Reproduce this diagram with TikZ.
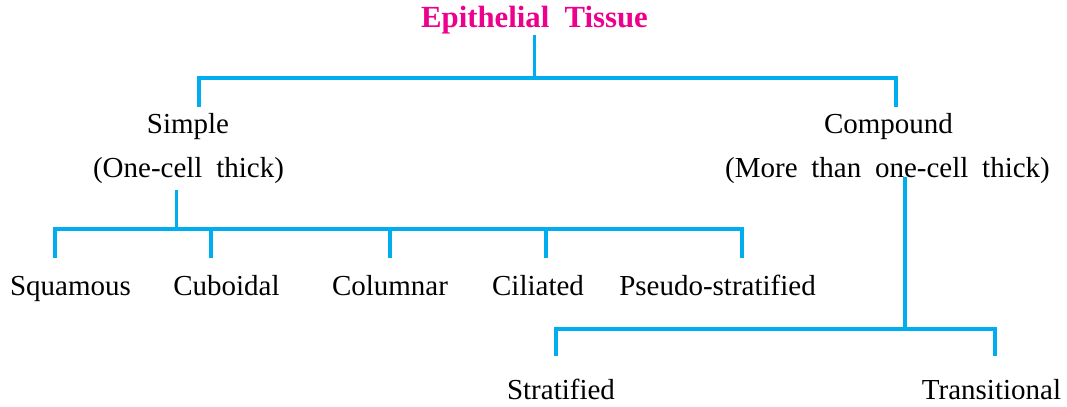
\documentclass[tikz,border=0pt]{standalone}
\usepackage{fontspec}
\setmainfont{Liberation Serif}
\newfontfamily\branchfont[WordSpace=1.9]{Liberation Serif}
\usepackage{xcolor}
\usepackage{tikz}
\usetikzlibrary{calc}

\definecolor{tissuepink}{HTML}{EC008C}
\definecolor{branchblue}{HTML}{00AEEF}

\begin{document}
\begin{tikzpicture}[x=0.02cm,y=-0.02cm,
		branch/.style={draw=branchblue,line width=1.9pt},
		root/.style={font=\fontsize{17.5}{21}\selectfont\bfseries,text=tissuepink,anchor=base,inner sep=0pt,text depth=4.3pt},
		kind/.style={font=\fontsize{16.5}{20}\branchfont,anchor=base,inner xsep=0pt,inner ysep=3pt,text height=11.5pt,text depth=4pt},
		leaf/.style={kind,inner ysep=9.5pt},
		lowleaf/.style={kind,inner ysep=12.5pt}]
			\useasboundingbox (0,0) rectangle (1067,406);
			
			\node[root] (tissue) at (534.5,27) {Epithelial\ \ Tissue};
			
			\node[kind] (simple) at (188,133) {Simple};
			\node[kind] (simplenote) at (188.5,177) {(One-cell thick)};
			\node[kind] (compound) at (888.5,133) {Compound};
			\node[kind] (compoundnote) at (887.5,177) {(More than one-cell thick)};
			
			\node[leaf] (squamous) at (70.5,295) {Squamous};
			\node[leaf] (cuboidal) at (226.5,295) {Cuboidal};
			\node[leaf] (columnar) at (390,295) {Columnar};
			\node[leaf] (ciliated) at (538,295) {Ciliated};
			\node[leaf] (pseudo) at (717.5,295) {Pseudo-stratified};
			
			\node[lowleaf] (stratified) at (561,399) {Stratified};
			\node[lowleaf] (transitional) at (991.5,399) {Transitional};
			
			\coordinate (tophub) at (534.5,78);
			\coordinate (simplehub) at (176.5,229);
			\coordinate (comphub) at (905,329);
			
			% top level
			\draw[branch] (tissue) -- (tophub);
			\draw[branch] ($(simple.north)+(11,0)$) |- (tophub) -| ($(compound.north)+(7.5,0)$);
			
			% simple
			\draw[branch] (simplehub) -- (simplehub |- simplenote.south);
			\foreach \leaf/\dx in {squamous/-15.5,cuboidal/-15.5,columnar/0,ciliated/8,pseudo/24.5}
				\draw[branch] ($(\leaf.north)+(\dx,0)$) coordinate (\leaf-tip) -- (\leaf-tip |- simplehub);
			\draw[branch] (squamous-tip) |- (simplehub) -| (pseudo-tip);
			
			% compound
			\draw[branch] (comphub) -- (comphub |- compoundnote.base);
			\foreach \leaf/\dx in {stratified/-5,transitional/3.5}
				\draw[branch] ($(\leaf.north)+(\dx,0)$) coordinate (\leaf-tip) -- (\leaf-tip |- comphub);
			\draw[branch] (stratified-tip) |- (comphub) -| (transitional-tip);
		\end{tikzpicture}
\end{document}
